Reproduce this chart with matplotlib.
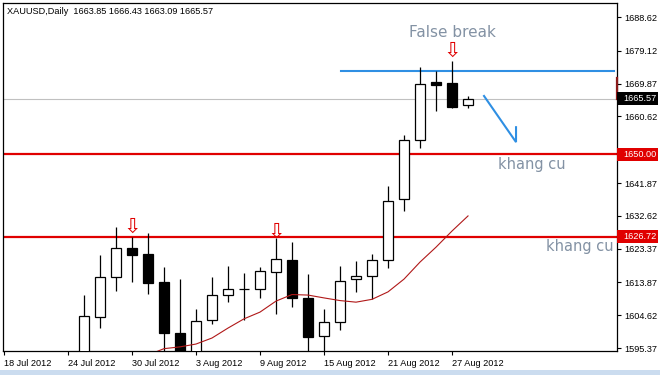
import matplotlib

matplotlib.use("Agg")
import matplotlib.pyplot as plt
import matplotlib.transforms as mtransforms
from matplotlib.patches import Rectangle


# trading days shown on the time axis (2012)
days = ["18 Jul", "19 Jul", "20 Jul", "23 Jul", "24 Jul", "25 Jul", "26 Jul", "27 Jul",
        "30 Jul", "31 Jul", "1 Aug", "2 Aug", "3 Aug", "6 Aug", "7 Aug", "8 Aug", "9 Aug",
        "10 Aug", "13 Aug", "14 Aug", "15 Aug", "16 Aug", "17 Aug", "20 Aug", "21 Aug",
        "22 Aug", "23 Aug", "24 Aug", "27 Aug", "28 Aug"]

# daily candles, starting at 25 Jul
candle_start = "25 Jul"
opens = [1590.0, 1604.0, 1615.3, 1623.5, 1621.8, 1614.0, 1599.7, 1591.5, 1603.2, 1610.2,
         1612.0, 1612.0, 1616.8, 1620.2, 1609.4, 1598.7, 1602.8, 1614.7, 1615.8, 1620.2,
         1637.5, 1654.1, 1670.2, 1670.1, 1663.85]
highs = [1610.3, 1621.6, 1629.4, 1626.7, 1627.7, 1618.1, 1614.8, 1606.5, 1615.4, 1618.5,
         1616.5, 1618.2, 1626.3, 1625.3, 1616.1, 1606.3, 1618.5, 1619.9, 1622.0, 1641.0,
         1655.4, 1674.6, 1673.4, 1676.3, 1666.43]
lows = [1588.0, 1600.9, 1611.5, 1614.0, 1610.7, 1592.0, 1589.0, 1590.0, 1602.2, 1608.4,
        1603.2, 1609.4, 1605.0, 1607.0, 1593.0, 1593.0, 1600.4, 1611.2, 1609.2, 1618.0,
        1634.1, 1651.8, 1662.2, 1662.9, 1663.09]
closes = [1604.4, 1615.3, 1623.7, 1621.7, 1613.8, 1599.5, 1591.0, 1603.0, 1610.3, 1611.9,
          1612.1, 1617.0, 1620.4, 1609.4, 1598.5, 1602.8, 1614.4, 1615.8, 1620.2, 1636.8,
          1654.1, 1669.9, 1669.5, 1663.3, 1665.57]

# moving average, starting at 31 Jul
ma_start = "31 Jul"
ma_values = [1593.4, 1595.2, 1595.7, 1596.5, 1598.2, 1601.0, 1603.6, 1605.5, 1608.6, 1610.45,
             1610.3, 1609.5, 1608.75, 1608.3, 1609.1, 1611.2, 1614.8, 1619.6, 1623.8, 1628.35,
             1632.6]

y_ticks = [1688.62, 1679.12, 1669.87, 1660.62, 1651.12, 1641.87, 1632.62, 1623.37,
           1613.87, 1604.62, 1595.37]
support_levels = [1650.00, 1626.72]
last_price = 1665.57
header = "XAUUSD,Daily  1663.85 1666.43 1663.09 1665.57"

# drawn objects
false_break_level = 1673.4
false_break_from = "16 Aug"
signal_days = ["30 Jul", "10 Aug", "27 Aug"]
signal_prices = [1629.6, 1628.2, 1679.1]
hint_offsets = [2, 4, 4]  # blue check-shaped stroke, bars after 27 Aug
hint_prices = [1666.4, 1653.4, 1657.6]
labels = ["False break", "khang cu", "khang cu"]
label_x = [28.0, 33.0, 36.0]
label_y = [1684.4, 1647.2, 1624.1]

RED = "#e00000"
BLUE = "#2f8fe3"
TEXT_GRAY = "#8392a4"

fig = plt.figure(figsize=(6.6, 3.75), dpi=100)
fig.patch.set_facecolor("white")
ax = fig.add_axes([3 / 660, 1 - 351 / 375, 614 / 660, 348 / 375])

x0 = days.index(candle_start)
for i, (o, h, l, c) in enumerate(zip(opens, highs, lows, closes)):
    x = x0 + i
    ax.vlines(x, l, h, color="black", linewidth=0.9, zorder=3)
    bottom = min(o, c)
    height = max(abs(c - o), 0.15)
    ax.bar(x, height, bottom=bottom, width=0.64,
           color="white" if c >= o else "black", edgecolor="black",
           linewidth=0.9, zorder=4)

m0 = days.index(ma_start)
ax.plot(range(m0, m0 + len(ma_values)), ma_values, color="#b01818", linewidth=0.8, zorder=5)

for level in support_levels:
    ax.axhline(level, color=RED, linewidth=1.6, zorder=2)
ax.axhline(last_price, color="#c0c0c0", linewidth=0.8, zorder=1)

fb = days.index(false_break_from)
ax.plot([fb + 0.06, 38.1], [false_break_level] * 2, color=BLUE, linewidth=1.5, zorder=2)

hx = [days.index("27 Aug") + off for off in hint_offsets]
ax.plot(hx, hint_prices, color=BLUE, linewidth=1.5, solid_joinstyle="miter", zorder=2)

for d, p in zip(signal_days, signal_prices):
    ax.text(days.index(d), p, "\u21e9", color=RED, fontsize=15, ha="center",
            va="center", zorder=6)

ax.text(label_x[0], label_y[0], labels[0], color=TEXT_GRAY, fontsize=11,
        ha="center", va="center")
for t, x, y in zip(labels[1:], label_x[1:], label_y[1:]):
    ax.text(x, y, t, color=TEXT_GRAY, fontsize=10.5, ha="center", va="center")

ax.set_xlim(-0.06, 38.31)
ax.set_ylim(1594.54, 1692.6)

tick_pos = list(range(0, len(days), 4))
ax.set_xticks(tick_pos)
ax.set_xticklabels([days[i] + " 2012" for i in tick_pos], ha="left",
                   fontsize=6.6, family="Liberation Sans")
ax.set_yticks(y_ticks)
# the 1651.12 label sits under the 1650.00 tag, so leave it blank
ax.set_yticklabels(["" if abs(v - support_levels[0]) < 2 else f"{v:.2f}" for v in y_ticks],
                   fontsize=6.6, family="Liberation Sans")
ax.yaxis.tick_right()
ax.tick_params(axis="y", direction="out", length=3, width=0.8, pad=2)
ax.tick_params(axis="x", direction="out", length=3, width=0.8, pad=3)
for spine in ax.spines.values():
    spine.set_linewidth(0.9)

# price tags on the right scale
tag_tr = mtransforms.blended_transform_factory(ax.transAxes, ax.transData)
tags = [(last_price, "black")] + [(lv, RED) for lv in support_levels]
for price, colour in tags:
    ax.add_patch(Rectangle((1.0, price - 1.85), 41 / 614, 3.7, transform=tag_tr,
                           facecolor=colour, edgecolor="none", clip_on=False, zorder=10))
    ax.text(1.0 + 6 / 614, price, f"{price:.2f}", transform=tag_tr, color="white",
            fontsize=6.6, family="Liberation Sans", va="center", ha="left",
            clip_on=False, zorder=11)
ax.plot([1.0, 1.0], [last_price, 1671.6], transform=tag_tr, color="#8b1a1a",
        linewidth=1.6, clip_on=False, zorder=9)

fig.text(7 / 660, 1 - 11 / 375, header, fontsize=6.6, family="Liberation Sans",
         va="center", ha="left")
fig.patches.append(Rectangle((0, 0), 1, 5 / 375, transform=fig.transFigure,
                             facecolor="#cbdcef", edgecolor="none"))

fig.savefig("out.png", dpi=100)
